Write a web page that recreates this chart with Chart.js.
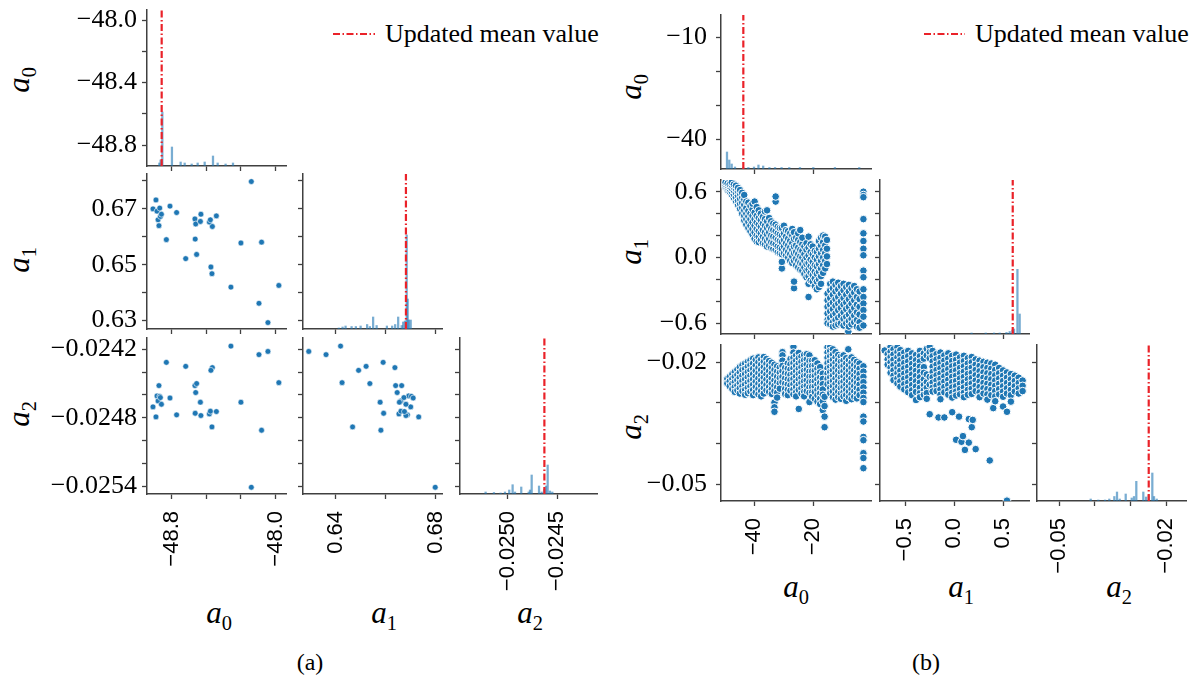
<!DOCTYPE html>
<html>
<head>
<meta charset="utf-8">
<title>Pair plots (a) and (b)</title>
<script src="https://cdn.jsdelivr.net/npm/chart.js@4.4.1/dist/chart.umd.min.js"></script>
<style>
  html, body { margin: 0; padding: 0; background: #fff; }
  #fig { position: relative; width: 1201px; height: 677px; overflow: hidden; background: #fff;
         font-family: 'Liberation Serif', 'Times New Roman', serif; color: #000; }
  #fig canvas { position: absolute; }
  .lab { position: absolute; font-size: 31px; line-height: 1; white-space: nowrap;
         transform: translate(-50%, -50%); }
  .lab i { font-style: italic; }
  .lab sub { font-size: 0.66em; vertical-align: -0.35em; line-height: 0; }
  .lab.rot { transform: translate(-50%, -50%) rotate(-90deg); }
  .cap { position: absolute; font-size: 24px; transform: translate(-50%, -50%); }
  .legend { position: absolute; display: flex; align-items: center; font-size: 26px; white-space: nowrap; height: 30px; }
  .legend svg { margin-right: 10px; }
</style>
</head>
<body>
<div id="fig">
  <div class="legend" style="left:333px;top:19px"><svg width="42" height="6"><line x1="0" y1="3" x2="42" y2="3" stroke="#ea2229" stroke-width="2.2" stroke-dasharray="7 2.5 1.5 2.5"/></svg><span>Updated mean value</span></div>
  <div class="legend" style="left:924px;top:19px"><svg width="41" height="6"><line x1="0" y1="3" x2="41" y2="3" stroke="#ea2229" stroke-width="2.2" stroke-dasharray="7 2.5 1.5 2.5"/></svg><span>Updated mean value</span></div>

  <div class="lab rot" style="left:18px;top:80px"><i>a</i><sub>0</sub></div>
  <div class="lab rot" style="left:18px;top:260px"><i>a</i><sub>1</sub></div>
  <div class="lab rot" style="left:18px;top:414px"><i>a</i><sub>2</sub></div>
  <div class="lab" style="left:219px;top:612px"><i>a</i><sub>0</sub></div>
  <div class="lab" style="left:384px;top:612px"><i>a</i><sub>1</sub></div>
  <div class="lab" style="left:530px;top:612px"><i>a</i><sub>2</sub></div>

  <div class="lab rot" style="left:630px;top:87px"><i>a</i><sub>0</sub></div>
  <div class="lab rot" style="left:630px;top:252px"><i>a</i><sub>1</sub></div>
  <div class="lab rot" style="left:630px;top:427px"><i>a</i><sub>2</sub></div>
  <div class="lab" style="left:796px;top:586px"><i>a</i><sub>0</sub></div>
  <div class="lab" style="left:961px;top:586px"><i>a</i><sub>1</sub></div>
  <div class="lab" style="left:1119px;top:586px"><i>a</i><sub>2</sub></div>

  <div class="cap" style="left:310px;top:662px">(a)</div>
  <div class="cap" style="left:926px;top:662px">(b)</div>
</div>
<script>
// ---------- (a) 31 posterior samples (a0, a1, a2) ----------
const aA0 = [-48.944, -48.921, -48.913, -48.892, -48.905, -48.887, -48.879, -48.898, -48.841, -48.813,
             -48.762, -48.692, -48.621, -48.615, -48.619, -48.608, -48.575, -48.579, -48.510, -48.502,
             -48.487, -48.456, -48.498, -48.490, -48.344, -48.267, -48.187, -48.108, -48.128, -48.059, -47.975];
const aA1 = [0.6700, 0.6732, 0.6692, 0.6703, 0.6661, 0.6673, 0.6681, 0.6640, 0.6590, 0.6710,
             0.6687, 0.6522, 0.6664, 0.6646, 0.6592, 0.6537, 0.6681, 0.6655, 0.6653, 0.6661,
             0.6637, 0.6675, 0.6492, 0.6468, 0.6420, 0.6578, 0.6798, 0.6581, 0.6362, 0.6293, 0.6426];
const aA2 = [-0.024705, -0.024793, -0.024609, -0.024612, -0.024653, -0.024623, -0.024682, -0.024518, -0.024314, -0.024627,
             -0.024775, -0.024349, -0.024518, -0.024579, -0.024761, -0.024500, -0.024781, -0.024664, -0.024767, -0.024743,
             -0.024360, -0.024746, -0.024384, -0.024881, -0.024171, -0.024664, -0.025411, -0.024910, -0.024246, -0.024218, -0.024492];
const aMeans = [-48.877, 0.6681, -0.02463];

// (a) diagonal histograms: bin centres and counts
const aH0Bins = [-48.895, -48.885, -48.872, -48.798, -48.731, -48.700, -48.646, -48.600, -48.546, -48.482, -48.446, -48.385, -48.328];
const aH0Counts = [3, 6, 54, 19, 4, 3, 2, 3, 4, 10, 3, 2, 3];
const aH1Bins = [0.6413, 0.6428, 0.6440, 0.6464, 0.6481, 0.6500, 0.6526, 0.6537, 0.6550, 0.6564, 0.6605,
                 0.6626, 0.6638, 0.6650, 0.6664, 0.6670, 0.6677, 0.6684, 0.6688, 0.6693, 0.6700];
const aH1Counts = [1, 2, 3, 2.5, 2.5, 3, 4.5, 2.5, 12, 3.5, 3, 3, 4.5, 12, 3.5, 7, 8, 94, 30, 9, 9];
const aH2Bins = [-0.025222, -0.025138, -0.025071, -0.025027, -0.024984, -0.024950, -0.024926, -0.024863, -0.024788,
                 -0.024775, -0.024758, -0.024684, -0.024657, -0.024630, -0.024614, -0.024597, -0.024574, -0.024550];
const aH2Counts = [2, 1.5, 1, 2, 4, 9.3, 2, 7, 2, 4, 19, 8, 2, 5, 8, 29, 3, 2];
const aCountMax = [156, 155, 156];

// (a) axes: limits, tick values, tick labels
const aX0 = {min: -48.99, max: -47.92, ticks: [-48.8, -48.5333, -48.2667, -48.0], labels: ['\u221248.8', '', '', '\u221248.0']};
const aY0 = {min: -48.934, max: -47.936, ticks: [-48.8, -48.6, -48.4, -48.2, -48.0], labels: ['\u221248.8', '', '\u221248.4', '', '\u221248.0']};
const aX1 = {min: 0.6270, max: 0.6825, ticks: [0.64, 0.66, 0.68], labels: ['0.64', '', '0.68']};
const aY1 = {min: 0.6270, max: 0.6825, ticks: [0.63, 0.64, 0.65, 0.66, 0.67, 0.68], labels: ['0.63', '', '0.65', '', '0.67', '']};
const aX2 = {min: -0.02548, max: -0.02410, ticks: [-0.0250, -0.0245], labels: ['\u22120.0250', '\u22120.0245']};
const aY2 = {min: -0.02547, max: -0.02410, ticks: [-0.0254, -0.0252, -0.0250, -0.0248, -0.0246, -0.0244, -0.0242],
             labels: ['\u22120.0254', '', '', '\u22120.0248', '', '', '\u22120.0242']};

// ---------- (b) scatter clouds, read column by column: [x, [y values]] ----------
const bA0A1 = [
  [-49.6, [0.645, 0.665, 0.685]], [-48.9, [0.615, 0.635, 0.655, 0.675]], [-48.2, [0.60, 0.625, 0.648, 0.668]],
  [-47.5, [0.575, 0.60, 0.63, 0.66, 0.685]], [-46.8, [0.545, 0.575, 0.61, 0.64, 0.665]], [-46.1, [0.515, 0.55, 0.59, 0.625, 0.655]],
  [-45.4, [0.48, 0.52, 0.565, 0.605, 0.635]], [-44.7, [0.445, 0.49, 0.535, 0.58, 0.615]], [-44.0, [0.40, 0.455, 0.50, 0.55, 0.59]],
  [-43.3, [0.34, 0.38, 0.43, 0.48, 0.53, 0.57]], [-42.6, [0.30, 0.35, 0.40, 0.45, 0.51]], [-41.9, [0.27, 0.325, 0.375, 0.425, 0.50]],
  [-41.2, [0.24, 0.29, 0.35, 0.40, 0.47]], [-40.5, [0.21, 0.26, 0.32, 0.38, 0.44, 0.49]], [-39.8, [0.17, 0.23, 0.29, 0.35, 0.41, 0.51]],
  [-39.1, [0.145, 0.20, 0.26, 0.32, 0.38, 0.46]], [-38.4, [0.14, 0.19, 0.24, 0.30, 0.36, 0.43]], [-37.7, [0.16, 0.22, 0.28, 0.34, 0.40]],
  [-37.0, [0.13, 0.19, 0.25, 0.31, 0.37]], [-36.3, [0.12, 0.17, 0.23, 0.29, 0.35, 0.42]], [-35.6, [0.10, 0.15, 0.21, 0.27, 0.33, 0.43]],
  [-34.9, [0.11, 0.17, 0.23, 0.29, 0.36]], [-34.2, [0.09, 0.14, 0.20, 0.26, 0.33]], [-33.5, [0.08, 0.13, 0.19, 0.25, 0.31]],
  [-32.7, [0.07, 0.12, 0.18, 0.24, 0.30, 0.51, 0.556]], [-32.0, [0.05, 0.10, 0.16, 0.22, 0.28]], [-31.3, [0.04, 0.09, 0.15, 0.21, 0.27]],
  [-30.6, [-0.10, -0.04, 0.03, 0.08, 0.14, 0.20, 0.27]], [-29.9, [0.04, 0.10, 0.16, 0.22, 0.29]], [-29.2, [0.02, 0.07, 0.13, 0.19, 0.25]],
  [-28.5, [0.00, 0.05, 0.11, 0.17, 0.24]], [-27.8, [-0.03, 0.03, 0.09, 0.15, 0.22]], [-27.1, [-0.05, 0.01, 0.07, 0.13, 0.20, 0.26]],
  [-26.5, [-0.28, -0.22, -0.03, 0.04, 0.10, 0.17, 0.23]], [-25.8, [-0.07, -0.01, 0.05, 0.11, 0.18]], [-25.1, [-0.09, -0.03, 0.03, 0.09, 0.16, 0.22]],
  [-24.4, [-0.11, -0.05, 0.01, 0.07, 0.14, 0.25]], [-23.7, [-0.12, -0.06, 0.00, 0.06, 0.12, 0.18]], [-23.0, [-0.15, -0.09, -0.03, 0.03, 0.10]],
  [-22.3, [-0.18, -0.12, -0.06, 0.00, 0.07, 0.13]], [-21.6, [-0.36, -0.24, -0.17, -0.11, -0.05, 0.02, 0.09, 0.19]],
  [-20.9, [-0.21, -0.14, -0.08, -0.02, 0.05, 0.12]], [-20.2, [-0.22, -0.16, -0.10, -0.04, 0.03, 0.10]],
  [-19.5, [-0.26, -0.19, -0.13, -0.07, 0.00, 0.06]], [-18.8, [-0.29, -0.22, -0.15, -0.08, -0.02, 0.05]],
  [-18.1, [-0.27, -0.20, -0.13, -0.06, 0.01, 0.08, 0.15]], [-17.4, [-0.24, -0.17, -0.10, -0.03, 0.04, 0.11, 0.18]],
  [-16.7, [-0.14, -0.07, 0.00, 0.07, 0.14, 0.20]], [-16.0, [-0.10, -0.03, 0.04, 0.11, 0.19]], [-15.4, [-0.06, 0.01, 0.08, 0.16]],
  [-15.2, [-0.33, -0.39, -0.45, -0.51, -0.57, -0.60]], [-14.3, [-0.24, -0.30, -0.37, -0.43, -0.49, -0.55, -0.61]],
  [-13.4, [-0.22, -0.28, -0.34, -0.41, -0.47, -0.53, -0.59, -0.63]], [-12.5, [-0.25, -0.31, -0.38, -0.44, -0.51, -0.57, -0.62]],
  [-11.6, [-0.23, -0.29, -0.36, -0.42, -0.48, -0.55, -0.61]], [-10.7, [-0.26, -0.33, -0.40, -0.46, -0.53, -0.60]],
  [-9.8, [-0.24, -0.30, -0.37, -0.43, -0.50, -0.56, -0.62]], [-8.9, [-0.27, -0.34, -0.41, -0.47, -0.54, -0.60]],
  [-8.2, [-0.675]], [-8.0, [-0.25, -0.31, -0.38, -0.45, -0.52, -0.58, -0.63]],
  [-7.1, [-0.28, -0.35, -0.42, -0.49, -0.56, -0.61]], [-6.2, [-0.26, -0.32, -0.39, -0.46, -0.53, -0.59]],
  [-5.3, [-0.29, -0.36, -0.43, -0.50, -0.57, -0.63]], [-4.4, [-0.31, -0.38, -0.45, -0.52, -0.59, -0.64]],
  [-3.1, [0.60, 0.57, 0.55, 0.35, 0.22, 0.15, 0.08, 0.02, -0.12, -0.18, -0.29, -0.36, -0.42, -0.48, -0.54, -0.62]]
];
const bA0A2 = [
  [-49.0, [-0.0241, -0.0252]], [-48.2, [-0.0236, -0.0247, -0.0259]], [-47.3, [-0.0229, -0.0241, -0.0253, -0.0266]],
  [-46.5, [-0.0224, -0.0236, -0.0249, -0.0261, -0.0273]], [-45.6, [-0.0218, -0.0231, -0.0244, -0.0257, -0.0269]],
  [-44.8, [-0.0212, -0.0225, -0.0238, -0.0251, -0.0264, -0.0277]], [-43.9, [-0.0207, -0.0219, -0.0233, -0.0246, -0.0259, -0.0271]],
  [-43.0, [-0.0203, -0.0216, -0.0229, -0.0242, -0.0255, -0.0268, -0.0280]], [-42.1, [-0.0199, -0.0211, -0.0224, -0.0237, -0.0250, -0.0263, -0.0276]],
  [-41.2, [-0.0195, -0.0207, -0.0220, -0.0233, -0.0246, -0.0259, -0.0272]], [-40.3, [-0.0191, -0.0203, -0.0216, -0.0229, -0.0242, -0.0255, -0.0268, -0.0281]],
  [-39.4, [-0.0194, -0.0208, -0.0221, -0.0235, -0.0248, -0.0261, -0.0274]], [-38.5, [-0.0188, -0.0200, -0.0214, -0.0227, -0.0240, -0.0253, -0.0266, -0.0279]],
  [-37.6, [-0.0193, -0.0206, -0.0219, -0.0232, -0.0245, -0.0258, -0.0271, -0.0284]], [-36.7, [-0.0187, -0.0199, -0.0212, -0.0225, -0.0238, -0.0251, -0.0264, -0.0277]],
  [-35.8, [-0.0192, -0.0204, -0.0217, -0.0230, -0.0243, -0.0256, -0.0269]], [-34.9, [-0.0197, -0.0209, -0.0222, -0.0235, -0.0248, -0.0261, -0.0273]],
  [-34.0, [-0.0201, -0.0214, -0.0227, -0.0240, -0.0253, -0.0266, -0.0278]],
  [-33.1, [-0.0206, -0.0219, -0.0232, -0.0245, -0.0258, -0.0271, -0.0299, -0.0311, -0.0322]],
  [-32.2, [-0.0210, -0.0223, -0.0236, -0.0249, -0.0262, -0.0275, -0.0287]], [-31.3, [-0.0213, -0.0226, -0.0239, -0.0252, -0.0265]],
  [-30.4, [-0.0175, -0.0183, -0.0196, -0.0209, -0.0222, -0.0236, -0.0249]], [-29.5, [-0.0214, -0.0227, -0.0240, -0.0253, -0.0266, -0.0278]],
  [-28.6, [-0.0203, -0.0216, -0.0229, -0.0242, -0.0255, -0.0268, -0.0281]], [-27.7, [-0.0192, -0.0205, -0.0218, -0.0231, -0.0244, -0.0257, -0.0270]],
  [-26.7, [-0.0162, -0.0176, -0.0189, -0.0202, -0.0215, -0.0228, -0.0241, -0.0254, -0.0267, -0.0279]],
  [-25.8, [-0.0183, -0.0196, -0.0209, -0.0222, -0.0235, -0.0248, -0.0261, -0.0274, -0.0284]],
  [-24.9, [-0.0177, -0.0190, -0.0203, -0.0216, -0.0229, -0.0242, -0.0255, -0.0268, -0.0315]],
  [-24.0, [-0.0186, -0.0199, -0.0212, -0.0225, -0.0238, -0.0251, -0.0264, -0.0277]],
  [-23.1, [-0.0182, -0.0195, -0.0208, -0.0221, -0.0234, -0.0247, -0.0260, -0.0273, -0.0284]],
  [-22.2, [-0.0180, -0.0193, -0.0206, -0.0219, -0.0232, -0.0245, -0.0258, -0.0271]],
  [-21.3, [-0.0183, -0.0197, -0.0210, -0.0223, -0.0236, -0.0249, -0.0262, -0.0275, -0.0298]],
  [-20.4, [-0.0196, -0.0209, -0.0222, -0.0235, -0.0248, -0.0261, -0.0274, -0.0285]],
  [-19.5, [-0.0195, -0.0208, -0.0221, -0.0234, -0.0247, -0.0260, -0.0273, -0.0290]],
  [-18.6, [-0.0203, -0.0216, -0.0229, -0.0242, -0.0255, -0.0268, -0.0281, -0.0297]],
  [-17.7, [-0.0212, -0.0225, -0.0238, -0.0251, -0.0264, -0.0277, -0.0290, -0.0303]],
  [-16.8, [-0.0228, -0.0241, -0.0254, -0.0267, -0.0280, -0.0296, -0.0318]], [-16.2, [-0.0285, -0.0308, -0.0334, -0.0360]],
  [-15.2, [-0.0163, -0.0176, -0.0189, -0.0202, -0.0215, -0.0228, -0.0241, -0.0254]],
  [-14.3, [-0.0162, -0.0172, -0.0185, -0.0198, -0.0211, -0.0224, -0.0237, -0.0250, -0.0263, -0.0276]],
  [-13.4, [-0.0168, -0.0181, -0.0194, -0.0207, -0.0220, -0.0233, -0.0246, -0.0259, -0.0272, -0.0286]],
  [-12.5, [-0.0175, -0.0188, -0.0201, -0.0214, -0.0227, -0.0240, -0.0253, -0.0266, -0.0279, -0.0292]],
  [-11.6, [-0.0182, -0.0195, -0.0208, -0.0221, -0.0234, -0.0247, -0.0260, -0.0273, -0.0286]],
  [-10.7, [-0.0186, -0.0199, -0.0212, -0.0225, -0.0238, -0.0251, -0.0264, -0.0277, -0.0290]],
  [-9.8, [-0.0183, -0.0196, -0.0209, -0.0222, -0.0235, -0.0248, -0.0261, -0.0274, -0.0284]],
  [-8.9, [-0.0190, -0.0203, -0.0216, -0.0229, -0.0242, -0.0255, -0.0268, -0.0281, -0.0295]], [-8.2, [-0.0168]],
  [-8.0, [-0.0195, -0.0208, -0.0221, -0.0234, -0.0247, -0.0260, -0.0273, -0.0286]],
  [-7.1, [-0.0188, -0.0201, -0.0214, -0.0227, -0.0240, -0.0253, -0.0266, -0.0279, -0.0291]],
  [-6.2, [-0.0194, -0.0207, -0.0220, -0.0233, -0.0246, -0.0259, -0.0272, -0.0285]],
  [-5.3, [-0.0199, -0.0212, -0.0225, -0.0238, -0.0251, -0.0264, -0.0277, -0.0289]],
  [-4.4, [-0.0203, -0.0216, -0.0229, -0.0242, -0.0255, -0.0268, -0.0281]],
  [-3.1, [-0.0210, -0.0223, -0.0236, -0.0249, -0.0262, -0.0275, -0.0288, -0.0298, -0.0334, -0.0346, -0.0384, -0.0392, -0.0424, -0.0436, -0.0461, -0.0561]]
];
const bA1A2 = [
  [-0.71, [-0.0171]], [-0.68, [-0.0180, -0.0193, -0.0206]], [-0.65, [-0.0162, -0.0174, -0.0187, -0.0200, -0.0213, -0.0226]],
  [-0.62, [-0.0168, -0.0181, -0.0194, -0.0207, -0.0220, -0.0233, -0.0244]],
  [-0.58, [-0.0163, -0.0175, -0.0188, -0.0201, -0.0214, -0.0227, -0.0240, -0.0252]],
  [-0.55, [-0.0170, -0.0182, -0.0195, -0.0208, -0.0221, -0.0234, -0.0247, -0.0260]],
  [-0.51, [-0.0176, -0.0189, -0.0202, -0.0215, -0.0228, -0.0241, -0.0254, -0.0267]],
  [-0.47, [-0.0172, -0.0185, -0.0198, -0.0211, -0.0224, -0.0237, -0.0250, -0.0263, -0.0274]],
  [-0.43, [-0.0178, -0.0191, -0.0204, -0.0217, -0.0230, -0.0243, -0.0256, -0.0269, -0.0281]],
  [-0.39, [-0.0182, -0.0195, -0.0208, -0.0221, -0.0234, -0.0247, -0.0260, -0.0273, -0.0293]],
  [-0.35, [-0.0172, -0.0185, -0.0198, -0.0211, -0.0224, -0.0237, -0.0250, -0.0263, -0.0276, -0.0286]],
  [-0.31, [-0.0178, -0.0191, -0.0212, -0.0226, -0.0242, -0.0256, -0.0269, -0.0280]],
  [-0.28, [-0.0167, -0.0183, -0.0230, -0.0249, -0.0263, -0.0276, -0.0290]],
  [-0.25, [-0.0162, -0.0175, -0.0190, -0.0236, -0.0255, -0.0328]],
  [-0.22, [-0.0172, -0.0185, -0.0198, -0.0211, -0.0224, -0.0237, -0.0250, -0.0263, -0.0272]],
  [-0.18, [-0.0180, -0.0193, -0.0206, -0.0219, -0.0232, -0.0245, -0.0258, -0.0271]], [-0.16, [-0.0336]],
  [-0.14, [-0.0176, -0.0189, -0.0202, -0.0215, -0.0228, -0.0241, -0.0254, -0.0267, -0.0280, -0.0291]],
  [-0.10, [-0.0183, -0.0196, -0.0209, -0.0222, -0.0235, -0.0248, -0.0261, -0.0274, -0.0336]],
  [-0.06, [-0.0178, -0.0191, -0.0204, -0.0217, -0.0230, -0.0243, -0.0256, -0.0269, -0.0280]],
  [-0.02, [-0.0184, -0.0197, -0.0210, -0.0223, -0.0236, -0.0249, -0.0262, -0.0275, -0.0287, -0.0323]],
  [0.02, [-0.0181, -0.0194, -0.0207, -0.0220, -0.0233, -0.0246, -0.0259, -0.0272, -0.0282, -0.0391]],
  [0.05, [-0.0334]], [0.06, [-0.0188, -0.0201, -0.0214, -0.0227, -0.0240, -0.0253, -0.0266, -0.0279]],
  [0.075, [-0.0396]], [0.09, [-0.0382]],
  [0.10, [-0.0184, -0.0197, -0.0210, -0.0223, -0.0236, -0.0249, -0.0262, -0.0275, -0.0286]], [0.11, [-0.0416]],
  [0.14, [-0.0190, -0.0203, -0.0216, -0.0229, -0.0242, -0.0255, -0.0268, -0.0280]], [0.15, [-0.0340, -0.0398]],
  [0.18, [-0.0187, -0.0200, -0.0213, -0.0226, -0.0239, -0.0252, -0.0265, -0.0278, -0.0360]], [0.19, [-0.0342]],
  [0.22, [-0.0193, -0.0206, -0.0219, -0.0232, -0.0245, -0.0258, -0.0271, -0.0414]],
  [0.26, [-0.0196, -0.0209, -0.0222, -0.0235, -0.0248, -0.0261, -0.0274, -0.0286]],
  [0.30, [-0.0199, -0.0212, -0.0225, -0.0238, -0.0251, -0.0264, -0.0277]],
  [0.34, [-0.0201, -0.0214, -0.0227, -0.0240, -0.0253, -0.0266, -0.0279, -0.0292]], [0.364, [-0.0442]],
  [0.38, [-0.0203, -0.0216, -0.0229, -0.0242, -0.0255, -0.0268, -0.0281]], [0.40, [-0.0313]],
  [0.42, [-0.0206, -0.0219, -0.0232, -0.0245, -0.0258, -0.0271, -0.0284, -0.0296]],
  [0.46, [-0.0214, -0.0227, -0.0240, -0.0253, -0.0266, -0.0279]],
  [0.50, [-0.0220, -0.0233, -0.0246, -0.0259, -0.0272, -0.0285, -0.0309]],
  [0.54, [-0.0225, -0.0238, -0.0251, -0.0264, -0.0277, -0.0322, -0.0541]],
  [0.58, [-0.0229, -0.0242, -0.0255, -0.0268, -0.0281, -0.0297]], [0.62, [-0.0233, -0.0246, -0.0259, -0.0272]],
  [0.66, [-0.0238, -0.0251, -0.0264, -0.0277]], [0.70, [-0.0245, -0.0258, -0.0271]]
];
const bMeans = [-43.6, 0.599, -0.02486];

// (b) diagonal histograms
const bH0Bins = [-49.11, -48.33, -47.52, -46.41, -43.6, -41.9, -40.0, -38.5, -36.9, -34.8, -32.9, -30.7, -28.1, -24.5, -20.0, -12.7, -4.5];
const bH0Counts = [17, 9, 5, 2, 1.5, 1.5, 2, 4, 3, 1.5, 1.5, 1.5, 1.5, 1.5, 1.5, 1.5, 1.5];
const bH1Bins = [0.178, 0.323, 0.408, 0.466, 0.535, 0.568, 0.596, 0.612, 0.647, 0.670];
const bH1Counts = [1, 1, 1, 1, 1.5, 2.5, 4, 5, 64.7, 20];
const bH2Bins = [-0.04117, -0.03903, -0.03715, -0.03594, -0.03453, -0.03378, -0.03302, -0.03133, -0.02964,
                 -0.02900, -0.02835, -0.02638, -0.02562, -0.02486, -0.02385, -0.02337, -0.02261];
const bH2Counts = [2, 1, 1, 2, 4.5, 9, 2, 7, 3, 4.5, 19.7, 9, 4, 6, 28, 4.5, 2];
const bCountMax = [154, 154, 156];

// (b) axes
const bX0 = {min: -51.13, max: -0.54, ticks: [-40, -20], labels: ['\u221240', '\u221220']};
const bY0 = {min: -48.74, max: -3.44, ticks: [-40, -30, -20, -10], labels: ['\u221240', '', '', '\u221210']};
const bX1 = {min: -0.758, max: 0.7653, ticks: [-0.5, 0, 0.5], labels: ['\u22120.5', '0.0', '0.5']};
const bY1 = {min: -0.6976, max: 0.7067, ticks: [-0.6, -0.4, -0.2, 0, 0.2, 0.4, 0.6], labels: ['\u22120.6', '', '', '0.0', '', '', '0.6']};
const bX2 = {min: -0.05627, max: -0.01438, ticks: [-0.05, -0.04, -0.03, -0.02], labels: ['\u22120.05', '', '', '\u22120.02']};
const bY2 = {min: -0.05419, max: -0.01574, ticks: [-0.05, -0.04, -0.03, -0.02], labels: ['\u22120.05', '', '', '\u22120.02']};

// ---------- drawing ----------
const SANS = "'Liberation Sans', Arial, sans-serif";
const SERIF = "'Liberation Serif', 'Times New Roman', serif";
const BLUE = '#1f77b4';
const BAR = 'rgba(31,119,180,0.6)';
const RED = '#ea2229';
const AXIS = '#404040';
const GL = 140, GB = 110, PT = 8, PR = 8;   // gutters round each plot area

const fig = document.getElementById('fig');

function zip(xs, ys) { return xs.map((x, i) => ({x: x, y: ys[i]})); }
function columns(cols) {
  const out = [];
  cols.forEach(([x, ys]) => ys.forEach(y => out.push({x: x, y: y})));
  return out;
}

function scaleX(ax, show) {
  return {
    type: 'linear', position: 'bottom', min: ax.min, max: ax.max, offset: false,
    afterBuildTicks: s => { s.ticks = ax.ticks.map(v => ({value: v})); },
    afterFit: s => { s.height = GB; s.paddingLeft = 0; s.paddingRight = 0; },
    ticks: {autoSkip: false, minRotation: 90, maxRotation: 90, padding: 12, color: '#000',
            font: {family: SANS, size: 22}, callback: (v, i) => show ? ax.labels[i] : ''},
    grid: {drawOnChartArea: false, drawTicks: true, tickLength: 5, tickWidth: 1.3, tickColor: AXIS, offset: false},
    border: {display: true, color: AXIS, width: 1.5}
  };
}

function scaleY(ax, show, pad) {
  return {
    type: 'linear', position: 'left', min: ax.min, max: ax.max,
    afterBuildTicks: s => { s.ticks = ax.ticks.map(v => ({value: v})); },
    afterFit: s => { s.width = GL; s.paddingTop = 0; s.paddingBottom = 0; },
    ticks: {autoSkip: false, padding: pad, color: '#000',
            font: {family: SERIF, size: 26}, callback: (v, i) => show ? ax.labels[i] : ''},
    grid: {drawOnChartArea: false, drawTicks: true, tickLength: 5, tickWidth: 1.3, tickColor: AXIS},
    border: {display: true, color: AXIS, width: 1.5}
  };
}

function panel(box, datasets, scales) {
  const [l, t, r, b] = box;
  const cv = document.createElement('canvas');
  cv.width = GL + (r - l) + PR;
  cv.height = PT + (b - t) + GB;
  cv.style.left = (l - GL) + 'px';
  cv.style.top = (t - PT) + 'px';
  fig.appendChild(cv);
  new Chart(cv, {
    type: 'scatter',
    data: {datasets: datasets},
    options: {
      responsive: false, animation: false, events: [],
      layout: {padding: {left: 0, top: PT, right: PR, bottom: 0}},
      plugins: {legend: {display: false}, tooltip: {enabled: false}},
      scales: scales
    }
  });
}

function figure(spec) {
  for (let r = 0; r < 3; r++) {
    for (let c = 0; c <= r; c++) {
      const box = [spec.cols[c][0], spec.rows[r][0], spec.cols[c][1], spec.rows[r][1]];
      const scales = {x: scaleX(spec.xAxes[c], r === 2), y: scaleY(spec.yAxes[r], c === 0, spec.ypad)};
      let datasets;
      if (r === c) {
        const h = spec.hists[r];
        scales.yc = {type: 'linear', display: false, min: 0, max: spec.countMax[r]};
        datasets = [
          {type: 'line', data: [{x: spec.means[r], y: spec.yAxes[r].min}, {x: spec.means[r], y: spec.yAxes[r].max}],
           yAxisID: 'y', borderColor: RED, borderWidth: 2.2, borderDash: [7, 2.5, 1.5, 2.5], pointRadius: 0, fill: false, order: 0},
          {type: 'bar', data: zip(h[0], h[1]), yAxisID: 'yc', backgroundColor: BAR, barThickness: 1.6, order: 1}
        ];
      } else {
        datasets = [{data: spec.pairs[c + '' + r], pointRadius: spec.r, pointBackgroundColor: BLUE,
                     pointBorderColor: '#ffffff', pointBorderWidth: spec.bw}];
      }
      panel(box, datasets, scales);
    }
  }
}

figure({
  cols: [[147, 286], [303, 442], [460, 597]],
  rows: [[10, 166], [174, 329], [338, 494]],
  xAxes: [aX0, aX1, aX2], yAxes: [aY0, aY1, aY2], ypad: 5,
  hists: [[aH0Bins, aH0Counts], [aH1Bins, aH1Counts], [aH2Bins, aH2Counts]], countMax: aCountMax,
  means: aMeans, r: 2.9, bw: 0.6,
  pairs: {'01': zip(aA0, aA1), '02': zip(aA0, aA2), '12': zip(aA1, aA2)}
});

figure({
  cols: [[721, 871], [880, 1029], [1037, 1186]],
  rows: [[15, 169], [180, 334], [345, 501]],
  xAxes: [bX0, bX1, bX2], yAxes: [bY0, bY1, bY2], ypad: 9,
  hists: [[bH0Bins, bH0Counts], [bH1Bins, bH1Counts], [bH2Bins, bH2Counts]], countMax: bCountMax,
  means: bMeans, r: 3.8, bw: 1.0,
  pairs: {'01': columns(bA0A1), '02': columns(bA0A2), '12': columns(bA1A2)}
});
</script>
</body>
</html>
